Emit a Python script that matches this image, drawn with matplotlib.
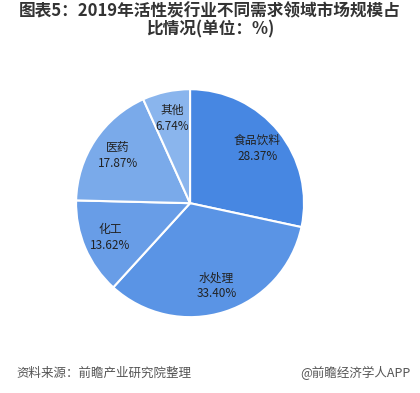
import numpy as np
import matplotlib
matplotlib.use('Agg')
import matplotlib.pyplot as plt

plt.rcParams['font.family'] = ['Noto Sans CJK SC', 'DejaVu Sans']

labels = ['食品饮料', '水处理', '化工', '医药', '其他']
values = [28.37, 33.40, 13.62, 17.87, 6.74]
colors = ['#4787e2', '#5a94e5', '#689de7', '#7aaaea', '#8ab5ed']

fig = plt.figure(figsize=(4.2, 3.93), dpi=100)
ax = fig.add_axes([0.181, 0.193, 0.543, 0.580])

texts = [f'{l}\n{v:.2f}%' for l, v in zip(labels, values)]
wedges, lbls = ax.pie(values, colors=colors, startangle=90, counterclock=False,
                      labels=texts, labeldistance=0.76,
                      wedgeprops=dict(edgecolor='white', linewidth=1.5),
                      textprops=dict(fontsize=8.5, color='#222222', ha='center', va='center'))
for t in lbls:
    t.set_ha('center')
    t.set_va('center')
    t.set_linespacing(1.3)
ax.set_xlim(-1, 1)
ax.set_ylim(-1, 1)
ax.set_aspect('equal')

fig.text(0.5, 0.948, '图表5：2019年活性炭行业不同需求领域市场规模占\n比情况(单位：%)',
         ha='center', va='center', fontsize=12, fontweight='bold', color='#333333',
         linespacing=1.0)
fig.text(0.04, 0.051, '资料来源：前瞻产业研究院整理', ha='left', va='center',
         fontsize=9, color='#555555')
fig.text(0.977, 0.051, '@前瞻经济学人APP', ha='right', va='center',
         fontsize=9, color='#555555')

fig.savefig('out.png', dpi=100)
